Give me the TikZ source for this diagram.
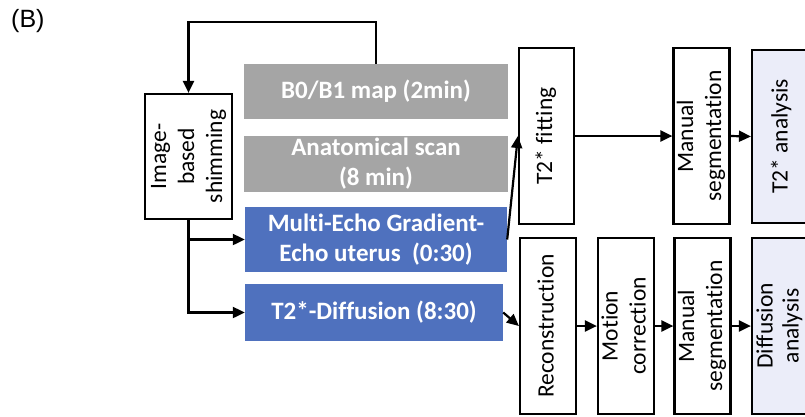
\documentclass[tikz,border=0pt]{standalone}
\usepackage{fontspec}
\usepackage{graphicx}
\setmainfont{Carlito}[Ligatures=CommonOff]
\newfontfamily\arialfont{Liberation Sans}
\usetikzlibrary{arrows.meta}
\definecolor{grayfill}{HTML}{A5A5A5}
\definecolor{bluefill}{HTML}{4F71BE}
\definecolor{lavfill}{HTML}{EBEDF9}
\newcommand{\vtext}[1]{\rotatebox{90}{\begin{tabular}{@{}c@{}}#1\end{tabular}}}
\begin{document}
\begin{tikzpicture}[x=1pt,y=-1pt,
 box/.style={draw=black,line width=2.2pt,fill=white,inner sep=0pt,align=center,font=\fontsize{23.5}{28}\selectfont},
 boxtext/.style={inner sep=0pt,align=center,font=\fontsize{23.5}{26}\selectfont},
 seqgray/.style={fill=grayfill,inner sep=0pt,text=white,align=center,font=\fontsize{25}{30}\selectfont\bfseries},
 seqblue/.style={seqgray,fill=bluefill},
 arr/.style={line width=2.2pt,-{Triangle[length=12pt,width=11pt]}}]
\useasboundingbox (0,0) rectangle (805,416);
\clip (0,0) rectangle (805,416);
\node[anchor=west,font=\arialfont\fontsize{25}{29}\selectfont,inner sep=0pt] (lab) at (11,21) {(B)};
% sequences
\node[seqgray,minimum width=264pt,minimum height=55pt] (b0) at (376,91.5) {B0/B1 map (2min)};
\node[seqgray,minimum width=264pt,minimum height=56pt] (anat) at (376,164) {Anatomical scan\\(8 min)};
\node[seqblue,minimum width=262pt,minimum height=65pt] (meg) at (376,239.5) {Multi-Echo Gradient-\\Echo uterus\ \ (0:30)};
\node[seqblue,minimum width=258pt,minimum height=57pt] (t2d) at (374,312.5) {T2*-Diffusion (8:30)};
% shimming
\node[box,minimum width=87pt,minimum height=125pt] (shim) at (188.5,156.5) {\vtext{Image-\\based\\shimming}};
% top row
\node[box,minimum width=55pt,minimum height=176pt] (fit) at (546.5,136) {\vtext{T2* fitting}};
\node[box,minimum width=55pt,minimum height=176pt] (ms1) at (701.5,136) {\vtext{Manual\\segmentation}};
\node[box,fill=lavfill,minimum width=60pt,minimum height=173pt] (t2a) at (782,136.5) {\vtext{T2* analysis}};
% bottom row
\node[box,minimum width=56pt,minimum height=176pt] (rec) at (548,326) {\vtext{Reconstruction}};
\node[box,minimum width=54pt,minimum height=176pt] (mc) at (626,326) {\vtext{Motion\\correction}};
\node[box,minimum width=55pt,minimum height=176pt] (ms2) at (702.5,326) {\vtext{Manual\\segmentation}};
\node[box,fill=lavfill,minimum width=60pt,minimum height=176pt] (da) at (782,326) {};
\node[boxtext] (datext) at ([xshift=-1.5pt]da.center) {\vtext{Diffusion\\analysis}};
% connectors
\draw[arr] (b0.north) -- ++(0,-42) -| (shim.north);
\draw[arr] (shim.south) |- (t2d.west);
\draw[arr] (shim.south |- meg.west) -- (meg.west);
\draw[arr] (meg.east) -- (fit.west);
\draw[arr] (fit.east) -- (ms1.west);
\draw[arr] (ms1.east) -- (t2a.west);
\draw[arr] (t2d.east) -- (rec.west);
\draw[arr] (rec.east) -- (mc.west);
\draw[arr] (mc.east) -- (ms2.west);
\draw[arr] (ms2.east) -- (da.west);
\end{tikzpicture}
\end{document}
